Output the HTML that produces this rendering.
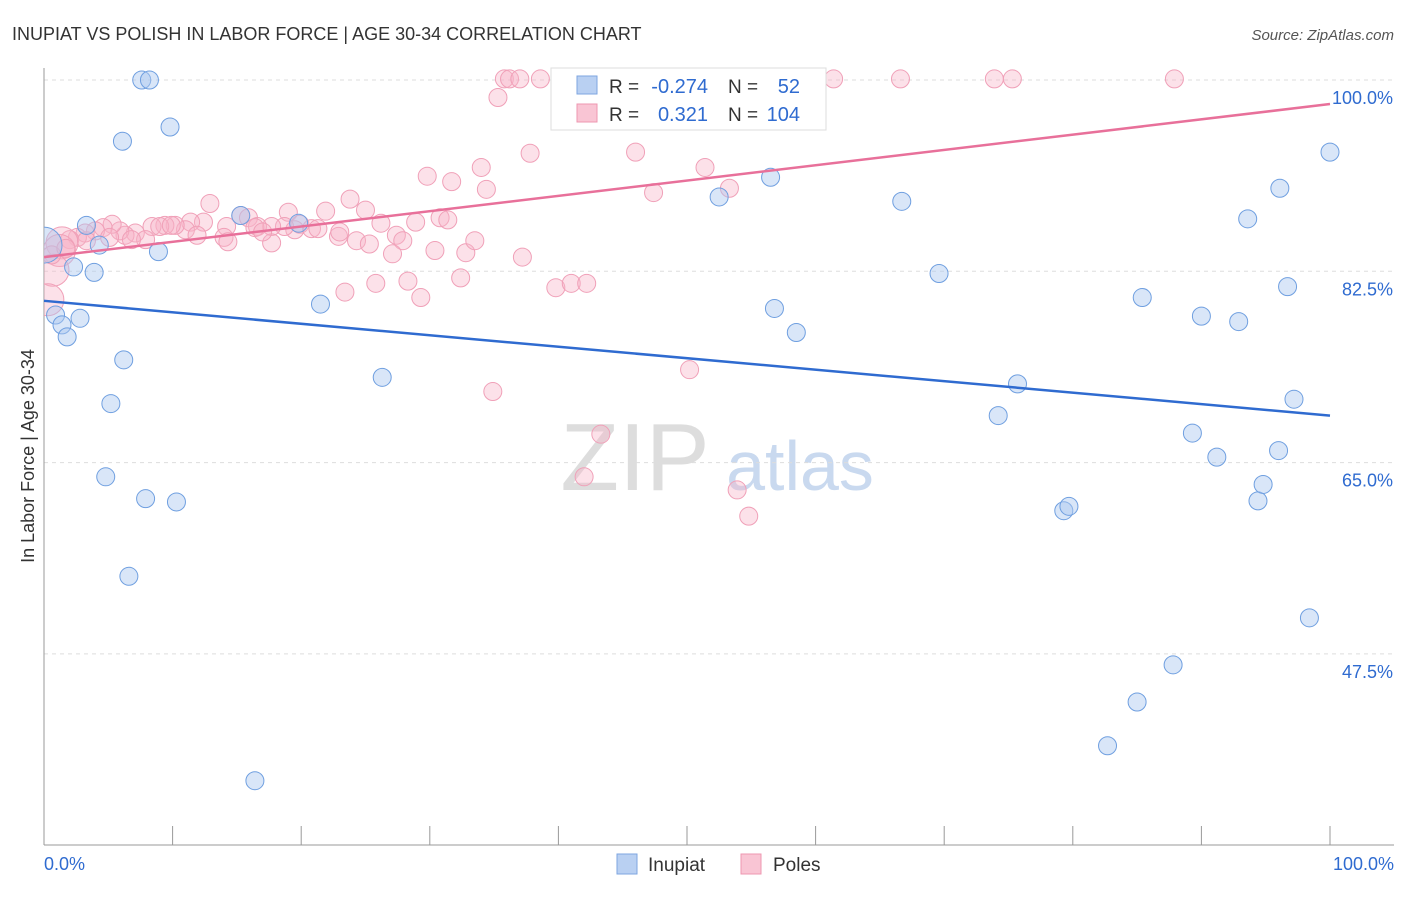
<!DOCTYPE html>
<html><head><meta charset="utf-8"><style>
body{margin:0;background:#fff;font-family:"Liberation Sans",sans-serif}
svg text{font-family:"Liberation Sans",sans-serif}
</style></head><body>
<svg id="chart" width="1406" height="892" xmlns="http://www.w3.org/2000/svg">
<defs><clipPath id="plotclip"><rect x="44" y="60" width="1360" height="785"/></clipPath></defs>
<text x="12" y="40" font-size="18" fill="#333">INUPIAT VS POLISH IN LABOR FORCE | AGE 30-34 CORRELATION CHART</text>
<text x="1394" y="40" font-size="15" fill="#555" font-style="italic" text-anchor="end">Source: ZipAtlas.com</text>
<g>
<text x="635" y="490" font-size="96" fill="#ddd" font-family="Liberation Serif" text-anchor="middle">ZIP</text>
<text x="800" y="490" font-size="70" fill="#c9d9ef" text-anchor="middle">atlas</text>
</g>
<g id="grid"></g>
<g id="axes"></g>
<g id="pts" clip-path="url(#plotclip)"></g>
<g id="lines"></g>
<g>
<rect x="551" y="68" width="275" height="62" fill="#fff" stroke="#ddd"/>
<rect x="577" y="76" width="20" height="18" fill="#b9d0f2" stroke="#7ea6e0"/>
<rect x="577" y="104" width="20" height="18" fill="#f9c5d4" stroke="#ee97b0"/>
<text x="609" y="93" font-size="19" fill="#333">R =</text>
<text x="708" y="93" font-size="20" fill="#2f6bd0" text-anchor="end">-0.274</text>
<text x="728" y="93" font-size="19" fill="#333">N =</text>
<text x="800" y="93" font-size="20" fill="#2f6bd0" text-anchor="end">52</text>
<text x="609" y="121" font-size="19" fill="#333">R =</text>
<text x="708" y="121" font-size="20" fill="#2f6bd0" text-anchor="end">0.321</text>
<text x="728" y="121" font-size="19" fill="#333">N =</text>
<text x="800" y="121" font-size="20" fill="#2f6bd0" text-anchor="end">104</text>
</g>
<text transform="translate(34,456) rotate(-90)" font-size="18" fill="#333" text-anchor="middle">In Labor Force | Age 30-34</text>
<g>
<rect x="617" y="854" width="20" height="20" fill="#b9d0f2" stroke="#7ea6e0"/>
<text x="648" y="871" font-size="19" fill="#333">Inupiat</text>
<rect x="741" y="854" width="20" height="20" fill="#f9c5d4" stroke="#ee97b0"/>
<text x="773" y="871" font-size="19" fill="#333">Poles</text>
</g>
</svg>
<script>
const yTicks=[100,82.5,65,47.5];
const yTickLabels=["100.0%","82.5%","65.0%","47.5%"];
const xTickLabels=["0.0%","100.0%"];
const blueX=[7.6,8.2,9.8,6.1,3.3,3.9,4.3,2.3,0.9,1.4,2.8,1.8,6.2,5.2,4.8,7.9,10.3,6.6,8.9,15.3,19.8,21.5,26.3,16.4,52.5,56.5,56.8,58.5,66.7,69.6,74.2,75.7,79.3,79.7,82.7,85.0,85.4,87.8,89.3,90.0,91.2,92.9,93.6,94.4,94.8,96.0,96.1,96.7,97.2,98.4,100,0];
const blueY=[100,100,95.7,94.4,86.7,82.4,84.9,82.9,78.5,77.6,78.2,76.5,74.4,70.4,63.7,61.7,61.4,54.6,84.3,87.6,86.9,79.5,72.8,35.9,89.3,91.1,79.1,76.9,88.9,82.3,69.3,72.2,60.6,61.0,39.1,43.1,80.1,46.5,67.7,78.4,65.5,77.9,87.3,61.5,63.0,66.1,90.1,81.1,70.8,50.8,93.4,84.9];
const blueR=[9,9,9,9,9,9,9,9,9,9,9,9,9,9,9,9,9,9,9,9,9,9,9,9,9,9,9,9,9,9,9,9,9,9,9,9,9,9,9,9,9,9,9,9,9,9,9,9,9,9,9,18];
const pinkPx=[505,510,520,541,604,612,636,708,763,834,901,994,1012,1174,498,676,530,635,705,427,452,481,486,654,729,350,210,365,326,288,241,248,416,440,448,381,300,311,318,295,284,271,258,227,204,190,185,175,165,152,160,135,125,120,112,103,96,85,78,70,62,60,53,48,145,131,197,224,228,272,339,357,370,396,403,392,435,466,475,523,345,376,408,421,461,556,571,587,689,493,601,584,737,749,52,66,87,110,255,263,340,171];
const pinkPy=[79,79,79,79,79,79,79,79,79,79,79,79,79,79,97,110,153,152,167,176,182,167,189,193,188,199,203,210,211,212,216,218,222,218,220,223,224,229,229,230,226,227,227,227,222,222,230,225,225,226,226,233,235,231,224,228,231,233,237,240,243,250,270,300,240,240,235,237,242,243,236,241,244,235,241,254,251,253,241,257,292,283,281,297,278,288,283,283,370,392,434,477,490,516,255,248,241,237,228,232,232,225];
const pinkX=pinkPx.map(p=>+((p-44)/12.86).toFixed(1));
const pinkY=pinkPy.map(p=>+(100-(p-80)/10.93).toFixed(1));
const blueLine=[79.8,69.3];
const pinkLine=[83.8,97.8];
const ns="http://www.w3.org/2000/svg";
const X=v=>44+v*12.86;
const Y=v=>80+(100-v)*191.3/17.5;
function mk(t,a,p){const e=document.createElementNS(ns,t);for(const k in a)e.setAttribute(k,a[k]);p.appendChild(e);return e;}
const grid=document.getElementById('grid'),axes=document.getElementById('axes'),pts=document.getElementById('pts'),lines=document.getElementById('lines');
yTicks.forEach((t,i)=>{
 const l=mk('line',{x1:44,x2:1394,y1:Y(t),y2:Y(t),stroke:'#ddd','stroke-dasharray':'4,4'},grid);
 
 
 const tx=mk('text',{x:1393,y:Y(t)+24,'font-size':18,fill:'#2f6bd0','text-anchor':'end'},axes);
 tx.textContent=yTickLabels[i];
 
 
});
const ya=mk('line',{x1:44,x2:44,y1:68,y2:845,stroke:'#999'},axes);


const xa=mk('line',{x1:44,x2:1394,y1:845,y2:845,stroke:'#999'},axes);


for(let i=0;i<=10;i++){const t=mk('line',{x1:X(i*10),x2:X(i*10),y1:826,y2:845,stroke:'#999'},axes);
 
 }
[[0,'start',44],[100,'end',1394]].forEach((d,i)=>{const t=mk('text',{x:d[2],y:870,'font-size':18,fill:'#2f6bd0','text-anchor':d[1]},axes);t.textContent=xTickLabels[i];
 
 });
pinkX.forEach((x,i)=>{const c=mk('circle',{cx:X(x),cy:Y(pinkY[i]),r:(i>=60&&i<=63)?16:9,fill:'rgba(248,180,200,0.4)',stroke:'#f0a0b8','stroke-width':1},pts);
 
 });
blueX.forEach((x,i)=>{const c=mk('circle',{cx:X(x),cy:Y(blueY[i]),r:blueR[i],fill:'rgba(170,200,240,0.45)',stroke:'#6f9fe0','stroke-width':1},pts);
 
 });
const bl=mk('line',{x1:X(0),y1:Y(blueLine[0]),x2:X(100),y2:Y(blueLine[1]),stroke:'#2f6bd0','stroke-width':2.5},lines);


const pl=mk('line',{x1:X(0),y1:Y(pinkLine[0]),x2:X(100),y2:Y(pinkLine[1]),stroke:'#e8709a','stroke-width':2.5},lines);


</script>
</body></html>
